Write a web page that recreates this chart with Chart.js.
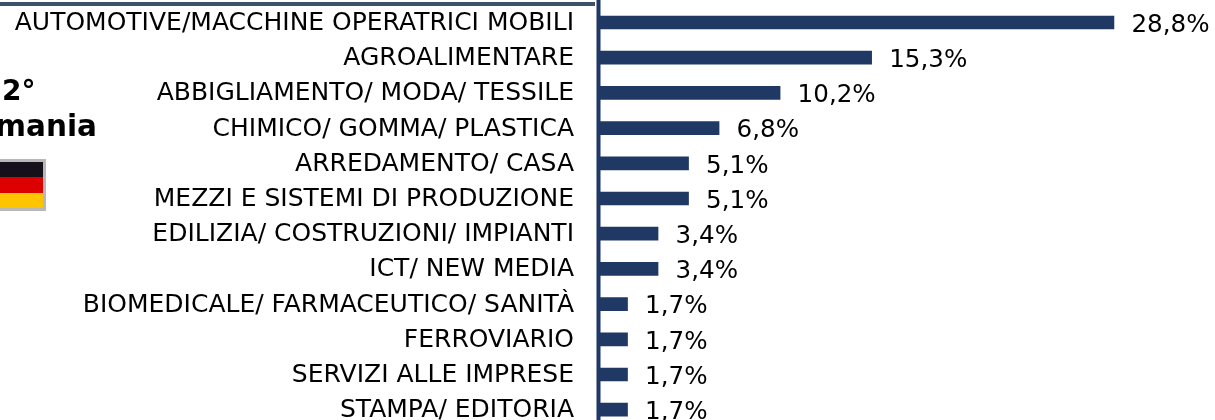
<!DOCTYPE html>
<html lang="it">
<head>
    <meta charset="UTF-8">
    <title>Settori</title>
    <script src="https://cdn.jsdelivr.net/npm/chart.js"></script>
    <style>
        html, body { margin: 0; padding: 0; background: #fff; overflow: hidden; }
        #wrap { position: relative; width: 1215px; height: 420px; overflow: hidden; font-family: "DejaVu Sans", sans-serif; color: #000; }
        #chart { position: absolute; left: 0; top: 0; }
        .rule { position: absolute; left: 0; top: 2px; width: 595px; height: 4px; background: #3b5268; }
        .rank { position: absolute; font-weight: bold; font-size: 28px; line-height: 34px; white-space: nowrap; }
        .flag { position: absolute; left: -10px; top: 159px; width: 56px; height: 52px; border: 3px solid #b8b8b8; box-sizing: border-box; }
        .flag div { height: 15.33px; }
    </style>
</head>
<body>
    <div id="wrap">
        <canvas id="chart" width="1215" height="450"></canvas>
        <div class="rule"></div>
        <div class="rank" style="left:2px;top:74px">2°</div>
        <div class="rank" style="left:-150px;width:247px;text-align:right;top:109px;font-size:29.5px">Germania</div>
        <div class="flag"><div style="background:#15101a"></div><div style="background:#dd0000"></div><div style="background:#ffc400"></div></div>
    </div>
    <script>
        const categories = [
            'AUTOMOTIVE/MACCHINE OPERATRICI MOBILI', 'AGROALIMENTARE', 'ABBIGLIAMENTO/ MODA/ TESSILE',
            'CHIMICO/ GOMMA/ PLASTICA', 'ARREDAMENTO/ CASA', 'MEZZI E SISTEMI DI PRODUZIONE',
            'EDILIZIA/ COSTRUZIONI/ IMPIANTI', 'ICT/ NEW MEDIA', 'BIOMEDICALE/ FARMACEUTICO/ SANITÀ',
            'FERROVIARIO', 'SERVIZI ALLE IMPRESE', 'STAMPA/ EDITORIA'
        ];
        const shares = [28.8, 15.3, 10.2, 6.8, 5.1, 5.1, 3.4, 3.4, 1.7, 1.7, 1.7, 1.7];

        // axis line runs past the plot area, under the bars
        const axisLine = {
            id: 'axisLine',
            beforeDatasetsDraw(chart) {
                const c = chart.ctx;
                const x0 = chart.scales.x.getPixelForValue(0);
                c.save();
                c.fillStyle = '#8c9ab5';
                c.fillRect(x0 - 1, 0, 5, chart.height);
                c.fillStyle = '#203864';
                c.fillRect(x0, 0, 3, chart.height);
                c.restore();
            }
        };

        // value labels at the bar ends
        const barLabels = {
            id: 'barLabels',
            afterDatasetsDraw(chart) {
                const c = chart.ctx;
                c.save();
                c.font = '24.6px "DejaVu Sans"';
                c.fillStyle = '#000';
                c.textBaseline = 'middle';
                chart.getDatasetMeta(0).data.forEach((bar, i) => {
                    c.fillText(shares[i].toFixed(1).replace('.', ',') + '%', bar.x + 17.5, bar.y + 3);
                });
                c.restore();
            }
        };

        new Chart(document.getElementById('chart'), {
            type: 'bar',
            data: {
                labels: categories,
                datasets: [{ data: shares, backgroundColor: '#203864', barThickness: 13 }]
            },
            plugins: [axisLine, barLabels],
            options: {
                indexAxis: 'y',
                responsive: false,
                animation: false,
                layout: { padding: { top: 4.9, bottom: 22.7, left: 0, right: 0 } },
                plugins: { legend: { display: false }, tooltip: { enabled: false } },
                scales: {
                    x: { display: false, min: 0, max: 34.43 },
                    y: {
                        afterFit(scale) {
                            scale.width = 597;
                            scale.paddingTop = 0;
                            scale.paddingBottom = 0;
                        },
                        grid: { display: false },
                        border: { display: false },
                        ticks: { color: '#000', padding: 15, labelOffset: 1, autoSkip: false, font: { family: '"DejaVu Sans"', size: 25 } }
                    }
                }
            }
        });
    </script>
</body>
</html>
